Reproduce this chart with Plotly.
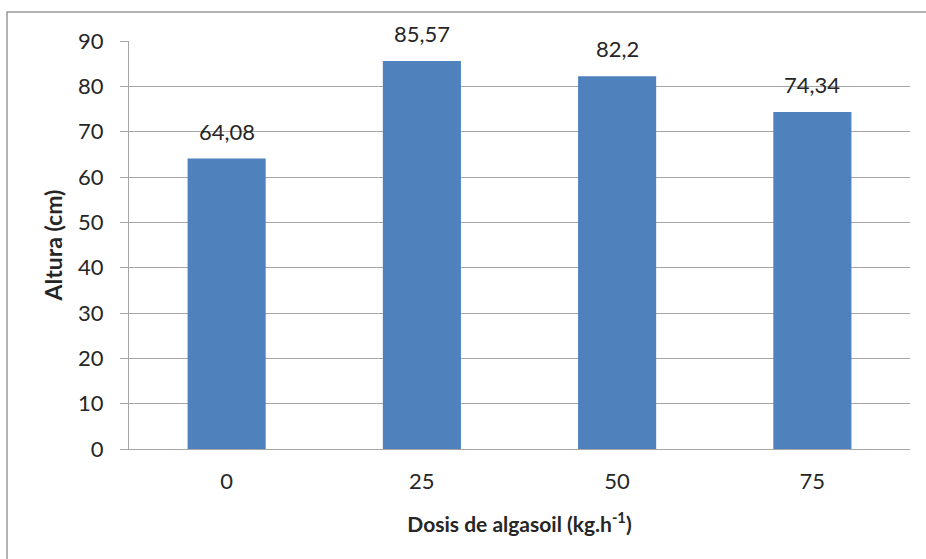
import plotly.graph_objects as go

# Plant height by algasoil dose
doses = ["0", "25", "50", "75"]
altura = [64.08, 85.57, 82.2, 74.34]
y_ticks = [0, 10, 20, 30, 40, 50, 60, 70, 80, 90]

BAR_COLOR = "#4F81BD"
GRID = "#a6a6a6"
FONT = "Lato"

W, H = 926, 559
L, R, T, B = 129, 16, 41, 110
pw, ph = W - L - R, H - T - B

fig = go.Figure(
    go.Bar(
        x=doses,
        y=altura,
        marker=dict(color=BAR_COLOR, line=dict(width=0)),
        width=0.4,
        hoverinfo="x+y",
    )
)

# value labels above each bar, decimal comma (x given as category index)
for i, v in enumerate(altura):
    txt = f"{v:g}".replace(".", ",")
    fig.add_annotation(
        x=i, y=v, text=txt, showarrow=False, yanchor="bottom",
        yshift=12, font=dict(family=FONT, size=22, color="#262626"),
    )

# outer chart frame (runs past the right and bottom edges)
def px_x(p):
    return (p - L) / pw

def px_y(p):
    return (H - B - p) / ph

fig.add_shape(
    type="rect", xref="paper", yref="paper",
    x0=px_x(7), x1=px_x(940), y0=px_y(575), y1=px_y(12),
    line=dict(color="#999999", width=1.5), fillcolor="rgba(0,0,0,0)",
    layer="below",
)

fig.update_layout(
    width=W, height=H,
    margin=dict(l=L, r=R, t=T, b=B),
    paper_bgcolor="white", plot_bgcolor="white",
    showlegend=False,
    font=dict(family=FONT, color="#262626"),
)

fig.update_xaxes(
    type="category", range=[-0.5, 3.5],
    showline=True, linecolor=GRID, linewidth=1.3,
    showgrid=False, ticks="",
    tickfont=dict(family=FONT, size=22, color="#262626"),
    ticklabelstandoff=12,
    title=dict(text="<b>Dosis de algasoil (kg.h<sup>-1</sup>)</b>",
               font=dict(family=FONT, size=21, color="#262626"), standoff=24),
)

fig.update_yaxes(
    range=[0, 90], tickvals=y_ticks,
    showline=True, linecolor=GRID, linewidth=1.3,
    showgrid=True, gridcolor=GRID, gridwidth=1.3,
    ticks="outside", ticklen=8, tickcolor=GRID, tickwidth=1.3,
    tickfont=dict(family=FONT, size=22, color="#262626"),
    ticklabelstandoff=12,
    zeroline=False,
    title=dict(text="<b>Altura (cm)</b>",
               font=dict(family=FONT, size=23, color="#262626"), standoff=8),
)

fig.write_html("out.html")
